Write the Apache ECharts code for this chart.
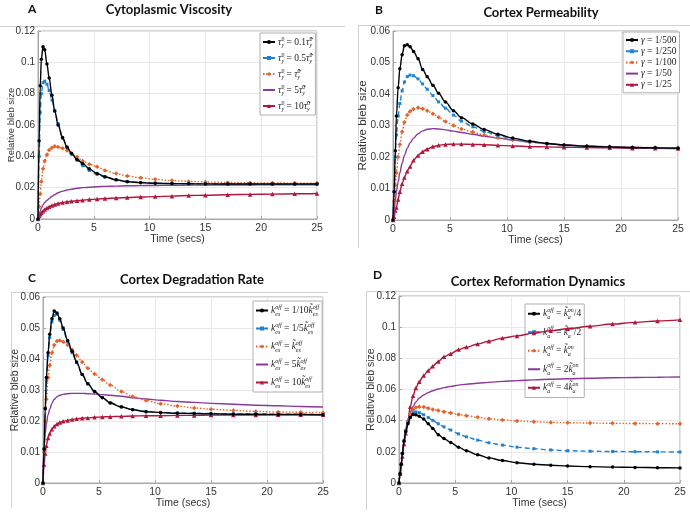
<!DOCTYPE html>
<html><head><meta charset="utf-8">
<script src="https://cdn.jsdelivr.net/npm/echarts@6/dist/echarts.min.js"></script>
<style>html,body{margin:0;padding:0;background:#fff}#c{width:690px;height:517px}</style>
</head><body><div id="c"></div>
<script>
// shared time samples (secs)
const T = [0,0.1,0.2,0.3,0.45,0.6,0.8,1,1.25,1.5,1.8,2.2,2.6,3,3.5,4,4.6,5.3,6,7,8,9.2,10.5,12,13.5,15,17,19,21,23,25];

// Panel A: Cytoplasmic Viscosity
const A1 = [0,0.05,0.085,0.102,0.110,0.108,0.099,0.090,0.079,0.069,0.060,0.052,0.046,0.042,0.038,0.0355,0.032,0.029,0.027,0.025,0.0238,0.0232,0.0228,0.0226,0.0225,0.0224,0.0223,0.0223,0.0223,0.0223,0.0223];
const A2 = [0,0.04,0.068,0.080,0.087,0.088,0.086,0.082,0.076,0.069,0.061,0.0515,0.0455,0.0415,0.0375,0.034,0.031,0.0285,0.0268,0.025,0.024,0.0233,0.0229,0.0226,0.0225,0.0224,0.0223,0.0223,0.0222,0.0222,0.0222];
const A3 = [0,0.008,0.016,0.024,0.032,0.037,0.041,0.044,0.0455,0.0464,0.046,0.0452,0.0438,0.0415,0.0395,0.037,0.035,0.0333,0.031,0.029,0.0275,0.0263,0.0253,0.0245,0.024,0.0236,0.0233,0.0231,0.023,0.0229,0.0228];
const A4 = [0,0.003,0.005,0.007,0.009,0.0105,0.012,0.013,0.0145,0.0155,0.0168,0.0178,0.0185,0.019,0.0196,0.02,0.0203,0.0206,0.0208,0.021,0.0212,0.0213,0.0214,0.0215,0.0216,0.0216,0.0217,0.0217,0.0218,0.0218,0.0218];
const A5 = [0,0.002,0.003,0.004,0.005,0.006,0.007,0.0078,0.0086,0.0093,0.0099,0.0105,0.011,0.0113,0.0117,0.012,0.0124,0.0127,0.0131,0.0134,0.0137,0.014,0.0143,0.0146,0.015,0.0152,0.0155,0.0157,0.0159,0.0161,0.0163];

// Panel B: Cortex Permeability
const B1 = [0,0.009,0.022,0.033,0.042,0.048,0.0525,0.0553,0.0556,0.055,0.0535,0.0512,0.0478,0.0455,0.0428,0.0402,0.0375,0.0347,0.0325,0.0305,0.0287,0.0272,0.026,0.025,0.0243,0.0238,0.0234,0.0232,0.023,0.0229,0.0228];
const B2 = [0,0.009,0.02,0.027,0.033,0.037,0.041,0.0438,0.0455,0.046,0.0458,0.0448,0.0432,0.0415,0.0395,0.0375,0.0355,0.0333,0.0314,0.0296,0.0281,0.0268,0.0257,0.0248,0.0242,0.0237,0.0234,0.0232,0.023,0.0229,0.0228];
const B3 = [0,0.006,0.011,0.015,0.02,0.024,0.028,0.031,0.0333,0.0345,0.0352,0.0356,0.0353,0.0347,0.0337,0.0326,0.0313,0.03,0.0289,0.0279,0.027,0.0261,0.0254,0.0247,0.0242,0.0238,0.0235,0.0233,0.0231,0.023,0.0229];
const B4 = [0,0.003,0.006,0.009,0.012,0.015,0.018,0.0205,0.0228,0.0245,0.026,0.0274,0.0283,0.0288,0.029,0.0289,0.0286,0.0282,0.0278,0.0272,0.0266,0.026,0.0254,0.0248,0.0243,0.0239,0.0235,0.0232,0.023,0.0229,0.0228];
const B5 = [0,0.001,0.003,0.004,0.0065,0.009,0.0115,0.0135,0.0155,0.017,0.019,0.0205,0.0217,0.0225,0.0233,0.0237,0.024,0.0241,0.0241,0.024,0.0239,0.0237,0.0235,0.0233,0.0232,0.0231,0.023,0.0229,0.0228,0.0228,0.0227];

// Panel C: Cortex Degradation Rate
const C1 = [0,0.011,0.024,0.034,0.042,0.048,0.053,0.0555,0.0548,0.053,0.05,0.046,0.0425,0.039,0.035,0.032,0.0295,0.0275,0.0258,0.0245,0.0236,0.023,0.0227,0.0225,0.0224,0.0223,0.0222,0.0222,0.0221,0.0221,0.022];
const C2 = [0,0.011,0.024,0.033,0.041,0.047,0.052,0.054,0.0545,0.0525,0.0495,0.0455,0.042,0.0388,0.035,0.032,0.0296,0.0276,0.0259,0.0246,0.0237,0.0231,0.0228,0.0226,0.0225,0.0224,0.0223,0.0223,0.0222,0.0222,0.0221];
const C3 = [0,0.01,0.02,0.027,0.034,0.038,0.042,0.0445,0.0458,0.046,0.0456,0.0445,0.043,0.0412,0.039,0.037,0.0352,0.0333,0.0316,0.0295,0.0279,0.0266,0.0256,0.0248,0.0242,0.0238,0.0234,0.0231,0.0229,0.0228,0.0227];
const C4 = [0,0.012,0.016,0.019,0.022,0.0238,0.0257,0.027,0.0278,0.0283,0.0286,0.0288,0.0289,0.0289,0.0289,0.0288,0.0287,0.0285,0.0283,0.028,0.0275,0.0271,0.0267,0.0263,0.026,0.0257,0.0254,0.0251,0.0249,0.0247,0.0245];
const C5 = [0,0.006,0.0095,0.012,0.0145,0.016,0.0173,0.0183,0.019,0.0195,0.0199,0.0202,0.0205,0.0207,0.0209,0.021,0.0212,0.0213,0.0214,0.0215,0.0216,0.0217,0.0217,0.0218,0.0218,0.0219,0.0219,0.0219,0.022,0.022,0.022];

// Panel D: Cortex Reformation Dynamics
const D1 = [0,0.006,0.012,0.019,0.027,0.033,0.038,0.042,0.044,0.0438,0.0428,0.041,0.038,0.035,0.031,0.0285,0.026,0.023,0.0207,0.0181,0.0161,0.0144,0.013,0.012,0.0114,0.0109,0.0105,0.0102,0.01,0.0098,0.0097];
const D2 = [0,0.006,0.012,0.019,0.027,0.033,0.039,0.0425,0.045,0.0456,0.0452,0.0438,0.042,0.0402,0.038,0.036,0.034,0.0315,0.0296,0.0275,0.0258,0.0243,0.023,0.022,0.0212,0.0207,0.0204,0.0202,0.0201,0.02,0.0199];
const D3 = [0,0.006,0.012,0.019,0.027,0.034,0.04,0.0445,0.047,0.0485,0.049,0.0488,0.048,0.0472,0.0465,0.0458,0.045,0.044,0.0432,0.0422,0.0412,0.0405,0.0398,0.0393,0.0389,0.0387,0.0385,0.0383,0.0382,0.0381,0.038];
const D4 = [0,0.006,0.012,0.019,0.028,0.035,0.041,0.0455,0.049,0.052,0.0545,0.0565,0.058,0.0592,0.0603,0.0612,0.062,0.0628,0.0634,0.064,0.0646,0.0652,0.0657,0.0662,0.0666,0.0669,0.0672,0.0675,0.0677,0.0679,0.068];
const D5 = [0,0.006,0.0127,0.017,0.025,0.032,0.04,0.049,0.056,0.061,0.065,0.069,0.0722,0.075,0.078,0.081,0.083,0.0856,0.0872,0.0892,0.091,0.093,0.0944,0.0962,0.0977,0.099,0.1006,0.102,0.1031,0.104,0.1047];

// texts
const panelTitles = ['Cytoplasmic Viscosity','Cortex Permeability','Cortex Degradation Rate','Cortex Reformation Dynamics'];
const panelLetters = ['A','B','C','D'];
const xName = 'Time (secs)';
const yName = 'Relative bleb size';
const legendA = [
  '{i|τ}{p0|0}{b|y}{n| = 0.1}{i|τ̃}{p0|0}{b|y}',
  '{i|τ}{p0|0}{b|y}{n| = 0.5}{i|τ̃}{p0|0}{b|y}',
  '{i|τ}{p0|0}{b|y}{n| = }{i|τ̃}{p0|0}{b|y}',
  '{i|τ}{p0|0}{b|y}{n| = 5}{i|τ̃}{p0|0}{b|y}',
  '{i|τ}{p0|0}{b|y}{n| = 10}{i|τ̃}{p0|0}{b|y}'
];
const legendB = ['{i|γ}{n| = 1/500}','{i|γ}{n| = 1/250}','{i|γ}{n| = 1/100}','{i|γ}{n| = 1/50}','{i|γ}{n| = 1/25}'];
const legendC = [
  '{i|k}{b0|es}{p|off}{n| = 1/10}{i|k̃}{b0|es}{p|off}',
  '{i|k}{b0|es}{p|off}{n| = 1/5}{i|k̃}{b0|es}{p|off}',
  '{i|k}{b0|es}{p|off}{n| = }{i|k̃}{b0|es}{p|off}',
  '{i|k}{b0|es}{p|off}{n| = 5}{i|k̃}{b0|es}{p|off}',
  '{i|k}{b0|es}{p|off}{n| = 10}{i|k̃}{b0|es}{p|off}'
];
const legendD = [
  '{i|k}{b0|a}{p|off}{n| = }{i|k̃}{b0|a}{p|on}{n|/4}',
  '{i|k}{b0|a}{p|off}{n| = }{i|k̃}{b0|a}{p|on}{n|/2}',
  '{i|k}{b0|a}{p|off}{n| = }{i|k̃}{b0|a}{p|on}',
  '{i|k}{b0|a}{p|off}{n| = 2}{i|k̃}{b0|a}{p|on}',
  '{i|k}{b0|a}{p|off}{n| = 4}{i|k̃}{b0|a}{p|on}'
];

const panels = [[A1,A2,A3,A4,A5],[B1,B2,B3,B4,B5],[C1,C2,C3,C4,C5],[D1,D2,D3,D4,D5]];
const legends = [legendA, legendB, legendC, legendD];

const grids = [
  {left:38, top:31, width:279, height:188},
  {left:393, top:31, width:285, height:189},
  {left:43, top:297, width:280, height:186},
  {left:399, top:296, width:281, height:187}
];
const yMax = [0.12, 0.06, 0.06, 0.12];
const yInt = [0.02, 0.01, 0.01, 0.02];
const yNameGap = [22, 24, 22, 22];
const yNameSize = [9.5, 11.5, 10.5, 10.5];
const styles = [
  {color:'#000000', type:'solid', symbol:'circle', size:3.5},
  {color:'#1f82d2', type:[5,3], symbol:'rect', size:3},
  {color:'#e4632b', type:[1.5,1.8], symbol:'diamond', size:4.5},
  {color:'#8a3a9c', type:'solid', symbol:'none', size:0},
  {color:'#b0173a', type:'solid', symbol:'triangle', size:4.5}
];
const legendPos = [
  {left:260, top:33, gap:4, lh:12},
  {left:623, top:32, gap:1.2, lh:9.5},
  {left:253, top:301, gap:5, lh:13},
  {left:525, top:304, gap:5, lh:13.5}
];
const titlePos = [
  {cx:169, ty:3, lx:28, ly:3},
  {cx:541, ty:6, lx:375, ly:4},
  {cx:192, ty:273, lx:28, ly:272},
  {cx:538, ty:275, lx:373, ly:269}
];

const serif = "'Liberation Serif','DejaVu Serif',serif";
function richFor(lh){
  return {
    i:{fontFamily:serif, fontStyle:'italic', fontSize:9.5, color:'#222', lineHeight:lh},
    n:{fontFamily:serif, fontSize:9.5, color:'#222', lineHeight:lh},
    p:{fontFamily:serif, fontStyle:'italic', fontSize:6, color:'#222', verticalAlign:'top', lineHeight:6},
    b:{fontFamily:serif, fontStyle:'italic', fontSize:6, color:'#222', verticalAlign:'bottom', lineHeight:6},
    p0:{fontFamily:serif, fontSize:6, color:'#222', verticalAlign:'top', lineHeight:6, width:0},
    b0:{fontFamily:serif, fontStyle:'italic', fontSize:6, color:'#222', verticalAlign:'bottom', lineHeight:6, width:0}
  };
}

const option = {
  animation:false,
  backgroundColor:'#ffffff',
  title:[], grid:[], xAxis:[], yAxis:[], legend:[], series:[],
  graphic:[]
};

const axisFont = "'Liberation Sans',Arial,sans-serif";
panels.forEach((ser, g) => {
  option.grid.push(Object.assign({show:true, borderColor:'#a8a8a8', borderWidth:1, backgroundColor:'#fff'}, grids[g]));
  option.xAxis.push({
    type:'value', gridIndex:g, min:0, max:25, interval:5,
    name:xName, nameLocation:'middle', nameGap:15, nameMoveOverlap:false,
    nameTextStyle:{fontFamily:axisFont, fontSize:10.5, color:'#333'},
    axisLine:{show:true, lineStyle:{color:'#a8a8a8'}},
    axisTick:{show:true, inside:true, length:3, lineStyle:{color:'#a8a8a8'}},
    axisLabel:{fontFamily:axisFont, fontSize:10.5, color:'#333', margin:4},
    splitLine:{show:true, lineStyle:{color:'#e8e8e8', width:1}}
  });
  option.yAxis.push({
    type:'value', gridIndex:g, min:0, max:yMax[g], interval:yInt[g],
    name:yName, nameLocation:'middle', nameGap:yNameGap[g], nameMoveOverlap:false,
    nameTextStyle:{fontFamily:axisFont, fontSize:yNameSize[g], color:'#333'},
    axisLine:{show:true, lineStyle:{color:'#a8a8a8'}},
    axisTick:{show:true, inside:true, length:3, lineStyle:{color:'#a8a8a8'}},
    axisLabel:{fontFamily:axisFont, fontSize:10, color:'#333', margin:3},
    splitLine:{show:true, lineStyle:{color:'#e8e8e8', width:1}}
  });
  const names = [];
  const legendData = [];
  ser.forEach((arr, k) => {
    const st = styles[k];
    const nm = panelLetters[g] + (k+1);
    names.push(nm);
    legendData.push(st.symbol === 'none' ? {name:nm, itemStyle:{opacity:0}} : {name:nm});
    option.series.push({
      type:'line', name:nm, xAxisIndex:g, yAxisIndex:g,
      data: T.map((t, i) => [t, arr[i]]),
      smooth:0.35, smoothMonotone:'x',
      symbol: st.symbol, symbolSize: st.size, showSymbol: st.symbol !== 'none',
      lineStyle:{color:st.color, width:1.4, type:st.type},
      itemStyle:{color:st.color},
      emphasis:{disabled:true}, z: 10 - k
    });
  });
  const lp = legendPos[g];
  const labels = legends[g];
  option.legend.push({
    data:legendData, orient:'vertical', left:lp.left, top:lp.top,
    itemGap:lp.gap, itemWidth:12, itemHeight:5, padding:[3,3,3,2],
    backgroundColor:'#fff', borderColor:'#b0b0b0', borderWidth:1, borderRadius:0,
    selectedMode:false,
    formatter: function(name){ return labels[names.indexOf(name)]; },
    textStyle:{fontFamily:serif, fontSize:9.5, color:'#222', lineHeight:lp.lh, padding:[0,0,0,-2], rich:richFor(lp.lh)}
  });
  const tp = titlePos[g];
  option.title.push({text:panelTitles[g], left:tp.cx, top:tp.ty, textAlign:'center', padding:0,
    textStyle:{fontFamily:"Lato,'Open Sans',sans-serif", fontWeight:'bold', fontSize:13, color:'#111'}});
  option.title.push({text:panelLetters[g], left:tp.lx, top:tp.ly, padding:0,
    textStyle:{fontFamily:"Lato,'Open Sans',sans-serif", fontWeight:'bold', fontSize:12, color:'#111'}});
});

// faint frame lines of the original panels
const frame = {stroke:'#d2d2d2', lineWidth:1};
option.graphic = [
  {type:'line', shape:{x1:0,y1:26.5,x2:345,y2:26.5}, style:frame, silent:true},
  {type:'line', shape:{x1:358,y1:25.5,x2:690,y2:25.5}, style:frame, silent:true},
  {type:'line', shape:{x1:358.5,y1:25,x2:358.5,y2:248}, style:frame, silent:true},
  {type:'line', shape:{x1:11,y1:292.5,x2:328,y2:292.5}, style:frame, silent:true},
  {type:'line', shape:{x1:11.5,y1:292,x2:11.5,y2:508}, style:frame, silent:true},
  {type:'line', shape:{x1:366,y1:291.5,x2:690,y2:291.5}, style:frame, silent:true},
  {type:'line', shape:{x1:366.5,y1:291,x2:366.5,y2:510}, style:frame, silent:true}
];

const chart = echarts.init(document.getElementById('c'), null, {renderer:'canvas'});
chart.setOption(option);
</script></body></html>
